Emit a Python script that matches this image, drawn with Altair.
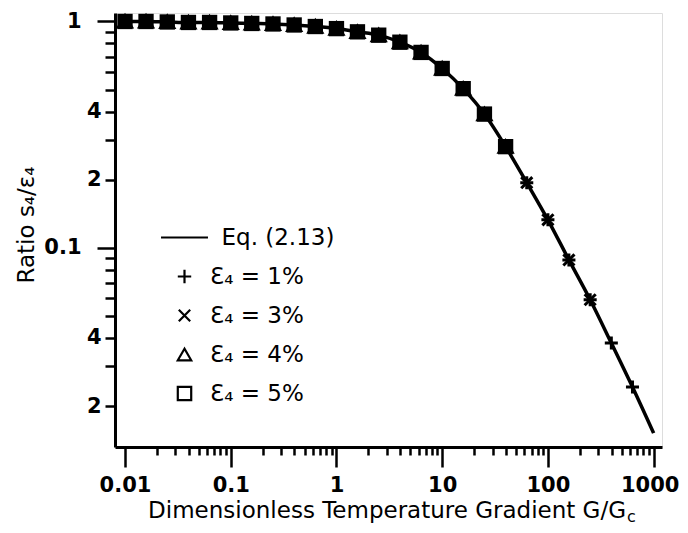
import altair as alt
import pandas as pd

# ---- data ----
x_marks = [0.01, 0.0158, 0.0251, 0.0398, 0.0631, 0.1, 0.158, 0.251, 0.398, 0.631,
           1.0, 1.58, 2.51, 3.98, 6.31, 10.0, 15.8, 25.1, 39.8, 63.1,
           100.0, 158.0, 251.0, 398.0, 631.0]
ratio_marks = [1.0, 1.0, 0.995, 0.99, 0.99, 0.985, 0.98, 0.975, 0.965, 0.95,
               0.93, 0.90, 0.87, 0.81, 0.73, 0.62, 0.505, 0.39, 0.28, 0.194,
               0.133, 0.0885, 0.059, 0.038, 0.0243]
eq_x = [0.01, 0.0158, 0.0251, 0.0398, 0.0631, 0.1, 0.158, 0.251, 0.398, 0.631,
        1.0, 1.58, 2.51, 3.98, 6.31, 10.0, 15.8, 25.1, 39.8, 63.1,
        100.0, 158.0, 251.0, 398.0, 631.0, 1000.0]
eq_y = [1.0, 1.0, 0.995, 0.99, 0.99, 0.985, 0.98, 0.975, 0.965, 0.95,
        0.93, 0.90, 0.87, 0.81, 0.73, 0.62, 0.505, 0.39, 0.28, 0.194,
        0.133, 0.0885, 0.059, 0.038, 0.0243, 0.0152]

line_label = "\u200b\u2002Eq. (2.13)"
series_labels = ["Ɛ₄ = 1%", "Ɛ₄ = 3%", "Ɛ₄ = 4%", "Ɛ₄ = 5%"]
series_counts = [25, 23, 19, 19]   # how many of the markers each series has

x_major = [0.01, 0.1, 1, 10, 100, 1000]
x_major_labels = ["0.01", "0.1", "1", "10", "100", "1000"]
y_major = [0.1, 1]
y_label_values = [1, 0.4, 0.2, 0.1, 0.04, 0.02]
y_label_texts = ["1", "4", "2", "0.1", "4", "2"]

x_title = "Dimensionless Temperature Gradient G/G"
x_title_sub = "c"
y_title = "Ratio s₄/ε₄"

# ---- tables ----
eq_df = pd.DataFrame({"x": eq_x, "y": eq_y})
rows = []
for lab, n in zip(series_labels, series_counts):
    for xv, yv in zip(x_marks[:n], ratio_marks[:n]):
        rows.append({"x": xv, "y": yv, "series": lab})
pts = pd.DataFrame(rows)

x_ticks = sorted(set(x_major + [round(m * v, 6) for v in x_major[:-1] for m in range(2, 10)]))
y_ticks = sorted(set([1] + [round(m * v, 6) for v in [0.01, 0.1] for m in range(1, 10) if round(m * v, 6) >= 0.02]))

def label_expr(values, texts):
    expr = "''"
    for v, t in reversed(list(zip(values, texts))):
        expr = f"datum.value == {v} ? '{t}' : ({expr})"
    return expr

def is_major(values):
    return " || ".join(f"datum.value == {v}" for v in values)

FONT = "DejaVu Sans"

xscale = alt.Scale(type="log", domain=[0.00804, 1200], nice=False)
yscale = alt.Scale(type="log", domain=[0.0132, 1.09], nice=False)

xaxis = alt.Axis(values=x_ticks, labelExpr=label_expr(x_major, x_major_labels),
    title=None, grid=False, domainWidth=3, domainColor="black",
    tickColor="black", tickWidth=2.5,
    tickSize={"condition": {"test": is_major(x_major), "value": 20}, "value": 8},
    labelPadding=7,
    labelOffset={"condition": {"test": f"datum.value == {x_major[-1]}", "value": -4}, "value": 0},
    labelFont=FONT, labelFontWeight="bold", labelFontSize=21, labelColor="black",
    labelFlush=False, labelOverlap=False)

yaxis = alt.Axis(values=y_ticks, labelExpr=label_expr(y_label_values, y_label_texts),
    title=None, grid=False, domainWidth=3, domainColor="black",
    tickColor="black", tickWidth=2.5,
    tickSize={"condition": {"test": is_major(y_major), "value": 18}, "value": 10},
    labelPadding={"condition": {"test": is_major(y_major), "value": 16}, "value": 4},
    labelFont=FONT, labelFontWeight="bold", labelFontSize=21, labelColor="black",
    labelFlush=False, labelOverlap=False)

line = alt.Chart(eq_df).mark_line(color="black", strokeWidth=3.5, interpolate="monotone").encode(
    x=alt.X("x:Q", scale=xscale, axis=xaxis),
    y=alt.Y("y:Q", scale=yscale, axis=yaxis),
)

plus_path = "M-1,0L1,0M0,-1L0,1"
cross_path = "M-0.85,-0.85L0.85,0.85M-0.85,0.85L0.85,-0.85"
line_path = "M-3.5,0L3.5,0"

others = alt.Chart(pts[pts.series != series_labels[3]]).mark_point(
    filled=False, color="black", strokeWidth=3, size=170, opacity=1).encode(
    x=alt.X("x:Q", scale=xscale),
    y=alt.Y("y:Q", scale=yscale),
    shape=alt.Shape("series:N",
        scale=alt.Scale(domain=[line_label] + series_labels,
                        range=[line_path, plus_path, cross_path, "triangle-up", "square"]),
        legend=alt.Legend(title=None, orient="none", legendX=58, legendY=213,
                          symbolSize=180, symbolStrokeWidth=2.2, symbolStrokeColor="black",
                          symbolFillColor="transparent", labelFont=FONT, labelFontSize=23,
                          labelColor="black", labelOffset=14, rowPadding=15, padding=0,
                          labelLimit=300)),
)

squares = alt.Chart(pts[pts.series == series_labels[3]]).mark_point(
    filled=True, color="black", shape="square", size=235, opacity=1).encode(
    x=alt.X("x:Q", scale=xscale),
    y=alt.Y("y:Q", scale=yscale),
)

title_df = pd.DataFrame({"t": [x_title]})
sub_df = pd.DataFrame({"t": [x_title_sub]})
ytitle_df = pd.DataFrame({"t": [y_title]})

xt = alt.Chart(title_df).mark_text(font=FONT, fontSize=23, align="right", baseline="alphabetic",
                                   color="black").encode(
    text="t:N", x=alt.value(511), y=alt.value(505))
xs = alt.Chart(sub_df).mark_text(font=FONT, fontSize=16, align="left", baseline="alphabetic",
                                 color="black").encode(
    text="t:N", x=alt.value(512), y=alt.value(509))
yt = alt.Chart(ytitle_df).mark_text(font=FONT, fontSize=23, align="center", baseline="middle",
                                    angle=270, color="black").encode(
    text="t:N", x=alt.value(-88), y=alt.value(212))

chart = alt.layer(line, others, squares, xt, xs, yt).properties(
    width=547, height=434,
    autosize=alt.AutoSizeParams(type="none"),
    padding={"left": 107, "top": 5, "right": 18, "bottom": 78},
).configure_view(stroke=None).configure(background="white")

chart.save("out.html", embed_options={"renderer": "svg", "actions": False})
